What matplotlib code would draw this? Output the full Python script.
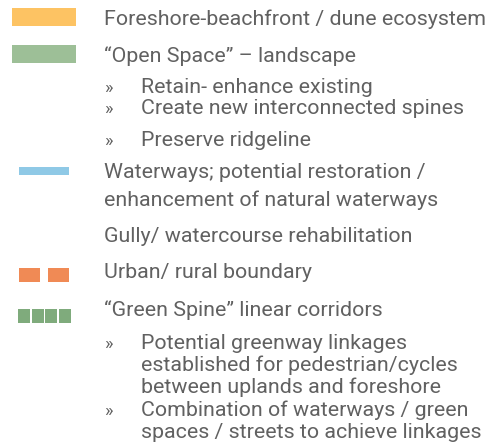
import matplotlib
matplotlib.use("Agg")
import matplotlib.pyplot as plt
from matplotlib.patches import Rectangle

# legend entries (text only)
headings = [
    "Foreshore-beachfront / dune ecosystem",
    "\u201cOpen Space\u201d \u2013 landscape",
    "Waterways; potential restoration /",
    "enhancement of natural waterways",
    "Gully/ watercourse rehabilitation",
    "Urban/ rural boundary",
    "\u201cGreen Spine\u201d linear corridors",
]
bullets = [
    "Retain- enhance existing",
    "Create new interconnected spines",
    "Preserve ridgeline",
    "Potential greenway linkages",
    "established for pedestrian/cycles",
    "between uplands and foreshore",
    "Combination of waterways / green",
    "spaces / streets to achieve linkages",
]
bulletMarks = [True, True, True, True, False, False, True, False]

# layout (pixel coords, y down)
headingY = [25, 62, 178, 206, 242, 278, 316]
bulletY = [93, 114, 146, 349, 371, 393, 416, 438]

textColor = "#616161"
fontSize = 15.4

fig = plt.figure(figsize=(4.92, 4.48), dpi=100)
ax = fig.add_axes([0, 0, 1, 1])
ax.set_xlim(0, 492)
ax.set_ylim(448, 0)
ax.axis("off")

def text(x, y, s, size=fontSize):
    ax.text(x, y, s, fontsize=size, color=textColor, va="baseline",
            ha="left", family="Roboto", fontweight="normal")

for s, y in zip(headings, headingY):
    text(104, y, s)
for s, y, mark in zip(bullets, bulletY, bulletMarks):
    if mark:
        text(104, y, "\u00bb", fontSize * 0.85)
    text(141, y, s)

# swatches
ax.add_patch(Rectangle((12, 8), 64, 18, color="#FDC363", lw=0))
ax.add_patch(Rectangle((12, 45), 64, 18, color="#9DBF97", lw=0))
ax.add_patch(Rectangle((19, 167), 50, 8, color="#8FC9E6", lw=0))
for x0 in [19, 48]:
    ax.add_patch(Rectangle((x0, 268), 21, 14, color="#F08A55", lw=0))
for i in range(4):
    ax.add_patch(Rectangle((18 + i * 13.5, 309), 12, 14, color="#7FAB7C", lw=0))

fig.savefig("out.png", dpi=100)
